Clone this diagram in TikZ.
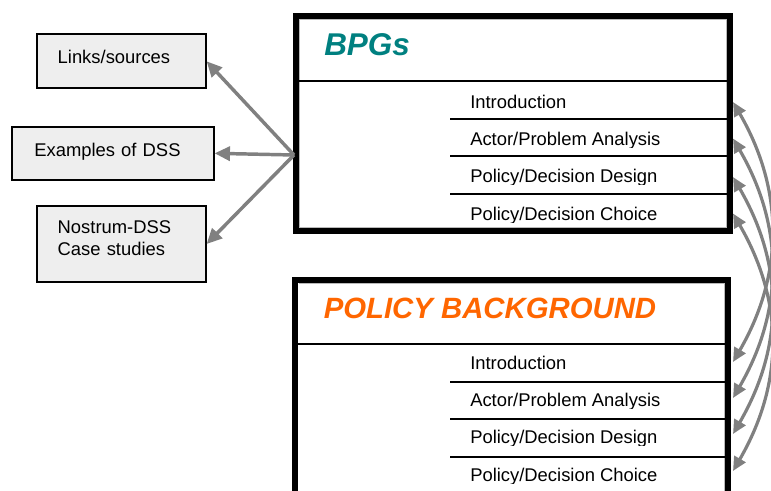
\documentclass[tikz,border=0pt]{standalone}
\usepackage{fontspec}
\setmainfont{Liberation Sans}
\usetikzlibrary{arrows.meta}
\definecolor{tealtitle}{HTML}{008080}
\definecolor{orangetitle}{HTML}{FF6600}
\definecolor{arrowgray}{HTML}{808080}
\definecolor{boxfill}{HTML}{EEEEEE}
\newcommand\ClipRowText[3]{%
  \begin{scope}
    \clip (450,#2-22) rectangle (725,#2+2);
    \node[rowtext] (#1) at (470,#2) {#3};
  \end{scope}}
\begin{document}
\begin{tikzpicture}[x=0.75pt,y=-0.75pt,
  sidebox/.style={draw=black, line width=1.4pt, fill=boxfill, inner sep=0pt, align=left,
    font=\fontsize{13.8}{16.5}\selectfont},
  rowtext/.style={anchor=base west, inner sep=0pt, font=\fontsize{13.8}{16.5}\selectfont},
  bigframe/.style={line width=4.5pt, line join=miter},
  innerframe/.style={draw=gray!55, line width=0.6pt},
  rowline/.style={line width=1.7pt},
  divline/.style={line width=1.5pt},
  linkarrow/.style={draw=arrowgray, line width=2.6pt, -{Triangle[length=11.5pt,width=10.5pt]}},
  syncarrow/.style={draw=arrowgray, line width=2.4pt,
    {Triangle[length=10.5pt,width=9.5pt]}-{Triangle[length=10.5pt,width=9.5pt]}},
  titletext/.style={anchor=base west, inner sep=0pt, font=\bfseries\itshape}]
\useasboundingbox (0,0) rectangle (771,490);

% left boxes
\node[sidebox, minimum width=126.75pt, minimum height=40.5pt, text width=95.25pt,
      text height=10pt, text depth=6pt] (links) at (121.2,61.3) {Links/sources};
\node[sidebox, minimum width=151pt, minimum height=40pt, text width=118pt,
      text height=10pt, text depth=5pt] (examples) at (113,153.3) {Examples of DSS};
\node[sidebox, minimum width=126.75pt, minimum height=57.5pt, text width=95.25pt,
      text height=10pt, text depth=26.5pt] (nostrum) at (121.2,244) {Nostrum-DSS\\Case studies};

% BPGs box
\draw[innerframe] (299.5,19.5) rectangle (726.2,227.3);
\draw[bigframe] (296,16) rectangle (729.7,230.5);
\draw[divline] (296,81) -- (729.7,81);
\draw[rowline] (450,119) -- (729.7,119);
\draw[rowline] (450,156.3) -- (729.7,156.3);
\draw[rowline] (450,193.7) -- (729.7,193.7);
\node[titletext, text=tealtitle, font=\fontsize{23.6}{28}\selectfont\bfseries\itshape] (bpgs) at (324,55.7) {BPGs};
\ClipRowText{b1}{108}{Introduction}
\ClipRowText{b2}{145}{Actor/Problem Analysis}
\ClipRowText{b3}{182}{Policy/Decision Design}
\ClipRowText{b4}{220}{Policy/Decision Choice}

% Policy background box
\draw[innerframe] (298.8,283) -- (724.5,283) -- (724.5,500);
\draw[bigframe] (295.3,500) -- (295.3,279.5) -- (728,279.5) -- (728,500);
\draw[divline] (295.3,344) -- (728,344);
\draw[rowline] (450,381.7) -- (728,381.7);
\draw[rowline] (450,419) -- (728,419);
\draw[rowline] (450,456.7) -- (728,456.7);
\node[titletext, text=orangetitle, font=\fontsize{22}{27}\selectfont\bfseries\itshape] (policy) at (323.5,318) {POLICY BACKGROUND};
\ClipRowText{p1}{369}{Introduction}
\ClipRowText{p2}{406}{Actor/Problem Analysis}
\ClipRowText{p3}{443}{Policy/Decision Design}
\ClipRowText{p4}{481}{Policy/Decision Choice}

% arrows to the left boxes
\coordinate (hub) at (294,155);
\draw[linkarrow] (hub) -- (links.east);
\draw[linkarrow] (hub) -- (examples.east);
\draw[linkarrow] (hub) -- (nostrum.east);

% curved arrows between the two boxes
\coordinate (bt1) at (733,102);
\coordinate (bt2) at (733,138.5);
\coordinate (bt3) at (733,177);
\coordinate (bt4) at (733,213.5);
\coordinate (pt1) at (733,362);
\coordinate (pt2) at (733,398);
\coordinate (pt3) at (733,434);
\coordinate (pt4) at (733,471);
\draw[syncarrow] (bt1) .. controls +(51,88) and +(51,-88) .. (pt1);
\draw[syncarrow] (bt2) .. controls +(51,88) and +(51,-88) .. (pt2);
\draw[syncarrow] (bt3) .. controls +(51,88) and +(51,-88) .. (pt3);
\draw[syncarrow] (bt4) .. controls +(51,88) and +(51,-88) .. (pt4);
\end{tikzpicture}
\end{document}
